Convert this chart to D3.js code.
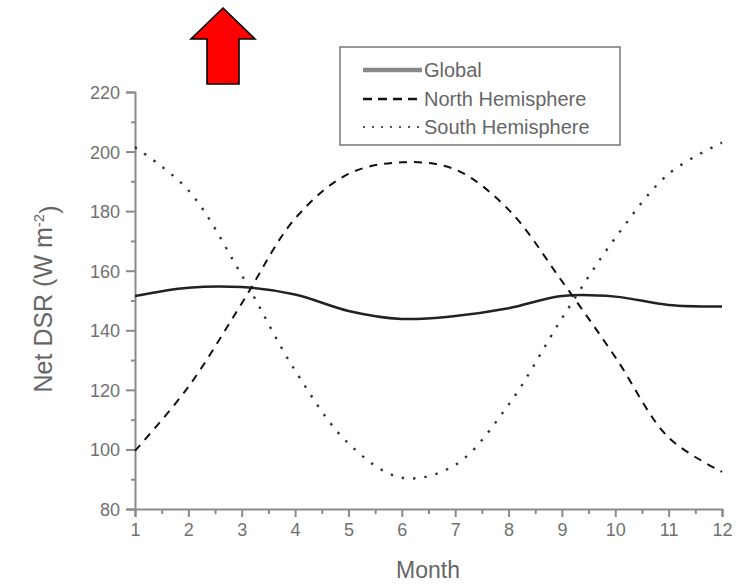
<!DOCTYPE html>
<html>
<head>
<meta charset="utf-8">
<script src="https://cdn.jsdelivr.net/npm/d3@7"></script>
<style>
  html, body { margin: 0; padding: 0; background: #ffffff; }
  svg { display: block; }
  text { font-family: "Liberation Sans", Arial, sans-serif; }
</style>
</head>
<body>
<div id="chart"></div>
<script>
const months = [1, 2, 3, 4, 5, 6, 7, 8, 9, 10, 11, 12];
const globalValues = [151.5, 154.3, 154.5, 152, 146.5, 143.8, 144.8, 147.4, 151.5, 151.3, 148.5, 148];
const northValues = [99.5, 121, 149, 177.5, 192.5, 196.4, 194, 180.5, 156.5, 131, 104, 92.5];
const southValues = [201.5, 187, 158.5, 126.5, 102, 90.5, 94.8, 115, 144, 171, 192.5, 203];
const yTicks = [80, 100, 120, 140, 160, 180, 200, 220];
const yMinorTicks = [90, 110, 130, 150, 170, 190, 210];
const xMinorTicks = [1.5, 2.5, 3.5, 4.5, 5.5, 6.5, 7.5, 8.5, 9.5, 10.5, 11.5];
const seriesNames = ["Global", "North Hemisphere", "South Hemisphere"];

const W = 743, H = 584;
const svg = d3.select("#chart").append("svg").attr("width", W).attr("height", H);

const x = d3.scaleLinear().domain([1, 12]).range([135, 722]);
const y = d3.scaleLinear().domain([80, 220]).range([509, 92]);

const axisColor = "#8a8a8a";
const labelColor = "#707070";

// Red arrow (decoration)
svg.append("path")
  .attr("d", "M223,8 L255,39 L239,39 L239,84 L207,84 L207,39 L191,39 Z")
  .attr("fill", "#ff0000")
  .attr("stroke", "#000")
  .attr("stroke-width", 1.6)
  .attr("stroke-linejoin", "miter");

// Axes
const xAxis = svg.append("g").attr("transform", `translate(0,${y(80)})`)
  .call(d3.axisBottom(x).tickValues(months).tickFormat(d3.format("d")).tickSize(8).tickPadding(6));
const xMinor = svg.append("g").attr("transform", `translate(0,${y(80)})`)
  .call(d3.axisBottom(x).tickValues(xMinorTicks).tickFormat("").tickSize(5));
const yAxis = svg.append("g").attr("transform", `translate(${x(1)},0)`)
  .call(d3.axisLeft(y).tickValues(yTicks).tickFormat(d3.format("d")).tickSize(9).tickPadding(6));
const yMinor = svg.append("g").attr("transform", `translate(${x(1)},0)`)
  .call(d3.axisLeft(y).tickValues(yMinorTicks).tickFormat("").tickSize(4));

[xAxis, xMinor, yAxis, yMinor].forEach(g => {
  g.select(".domain").attr("stroke", axisColor).attr("stroke-width", 2);
  g.selectAll(".tick line").attr("stroke", axisColor).attr("stroke-width", 2);
  g.selectAll(".tick text").attr("fill", labelColor).style("font-size", "18px")
    .style("font-family", "'Liberation Sans', Arial, sans-serif");
});
xMinor.select(".domain").remove();
yMinor.select(".domain").remove();
yAxis.selectAll(".tick text").attr("dy", "0.36em");

// Lines
const line = d3.line().x(d => x(d[0])).y(d => y(d[1])).curve(d3.curveCatmullRom.alpha(0.5));
const zip = vals => months.map((m, i) => [m, vals[i]]);

svg.append("path").datum(zip(globalValues)).attr("d", line)
  .attr("fill", "none").attr("stroke", "#222").attr("stroke-width", 2.5);
svg.append("path").datum(zip(northValues)).attr("d", line)
  .attr("fill", "none").attr("stroke", "#111").attr("stroke-width", 2).attr("stroke-dasharray", "8,7");
svg.append("path").datum(zip(southValues)).attr("d", line)
  .attr("fill", "none").attr("stroke", "#333").attr("stroke-width", 2.4).attr("stroke-dasharray", "2.4,9");

// Legend
const lg = svg.append("g");
lg.append("rect").attr("x", 340).attr("y", 47).attr("width", 280).attr("height", 98)
  .attr("fill", "#fff").attr("stroke", "#999").attr("stroke-width", 2);
const legendY = [70, 99, 127];
const legendStyles = [
  { stroke: "#888", width: 4.5, dash: null },
  { stroke: "#111", width: 2.5, dash: "9,6" },
  { stroke: "#555", width: 2, dash: "2,7" }
];
seriesNames.forEach((name, i) => {
  const l = lg.append("line").attr("x1", 363).attr("x2", 422)
    .attr("y1", legendY[i]).attr("y2", legendY[i])
    .attr("stroke", legendStyles[i].stroke).attr("stroke-width", legendStyles[i].width);
  if (legendStyles[i].dash) l.attr("stroke-dasharray", legendStyles[i].dash);
  lg.append("text").attr("x", 424).attr("y", legendY[i] + 7)
    .attr("fill", "#666").style("font-size", "20px").text(name);
});

// Axis titles
svg.append("text").attr("x", 428).attr("y", 578).attr("text-anchor", "middle")
  .attr("fill", "#666").style("font-size", "23px").text("Month");

const yl = svg.append("text")
  .attr("transform", "translate(52,299) rotate(-90)")
  .attr("text-anchor", "middle")
  .attr("fill", "#666").style("font-size", "25px");
yl.append("tspan").text("Net DSR (W m");
yl.append("tspan").attr("dy", "-0.55em").style("font-size", "15px").text("-2");
yl.append("tspan").attr("dy", "0.55em").text(")");
</script>
</body>
</html>
